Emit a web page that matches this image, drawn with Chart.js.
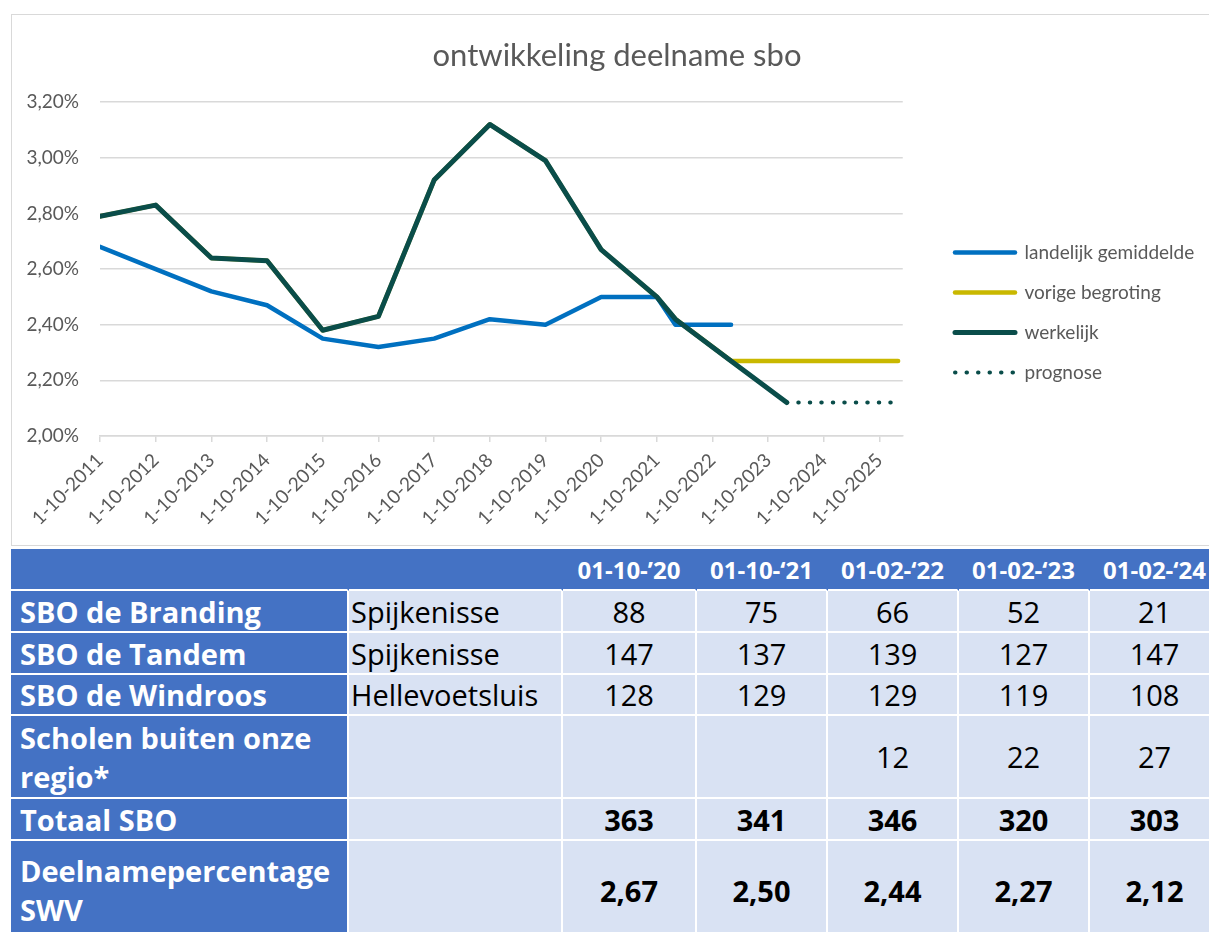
<!DOCTYPE html>
<html lang="nl">
<head>
<meta charset="utf-8">
<title>ontwikkeling deelname sbo</title>
<script src="https://cdn.jsdelivr.net/npm/chart.js@4.4.1/dist/chart.umd.min.js"></script>
<style>
    html, body { margin: 0; padding: 0; background: #fff; width: 1209px; height: 932px; overflow: hidden; }
    #kader { position: absolute; left: 11px; top: 14px; width: 1230px; height: 532px; border: 1.5px solid #d9d9d9; box-sizing: border-box; }
    #grafiek-wrap { position: absolute; left: 12px; top: 15px; width: 1197px; height: 529px; }
    #tabel { position: absolute; left: 11px; top: 549px; border-collapse: separate; border-spacing: 0; table-layout: fixed; width: 1210px; font-family: 'Open Sans', sans-serif; }
    #tabel th, #tabel td { padding: 0; box-sizing: border-box; border-right: 2px solid #fff; border-bottom: 2px solid #fff; line-height: 39px; }
    #tabel th { background: #4472c4; color: #fff; font-weight: bold; font-size: 24px; text-align: center; border-right-color: #4472c4; height: 42px; }
    #tabel td { background: #d9e2f3; color: #000; font-size: 29px; text-align: center; height: 42px; }
    #tabel td.naam { background: #4472c4; color: #fff; font-weight: bold; text-align: left; padding-left: 9px; }
    #tabel td.plaats { text-align: left; padding-left: 2px; }
    #tabel tr.vet td { font-weight: bold; }
</style>
</head>
<body>
<div id="kader"></div>
<div id="grafiek-wrap"><canvas id="grafiek"></canvas></div>
<table id="tabel">
    <colgroup>
        <col style="width:338px"><col style="width:214px"><col style="width:134px">
        <col style="width:131px"><col style="width:131px"><col style="width:131px"><col style="width:131px">
    </colgroup>
    <thead><tr id="kop"></tr></thead>
    <tbody id="romp"></tbody>
</table>
<script>
// --------------------------------------------------------------------------
// Data grafiek (waarden in %)
// --------------------------------------------------------------------------
const tickDatums = ['1-10-2011', '1-10-2012', '1-10-2013', '1-10-2014', '1-10-2015', '1-10-2016', '1-10-2017',
    '1-10-2018', '1-10-2019', '1-10-2020', '1-10-2021', '1-10-2022', '1-10-2023', '1-10-2024', '1-10-2025'];
const asStart = '1-10-2011';
const asEinde = '1-3-2026';

const datumLandelijk = ['1-10-2011', '1-10-2012', '1-10-2013', '1-10-2014', '1-10-2015', '1-10-2016', '1-10-2017',
    '1-10-2018', '1-10-2019', '1-10-2020', '1-10-2021', '1-2-2022', '1-2-2023'];
const landelijk = [2.68, 2.60, 2.52, 2.47, 2.35, 2.32, 2.35, 2.42, 2.40, 2.50, 2.50, 2.40, 2.40];

const datumVorige = ['1-10-2011', '1-10-2012', '1-10-2013', '1-10-2014', '1-10-2015', '1-10-2016', '1-10-2017',
    '1-10-2018', '1-10-2019', '1-10-2020', '1-10-2021', '1-2-2022', '1-2-2023', '1-2-2026'];
const vorigeBegroting = [2.79, 2.83, 2.64, 2.63, 2.38, 2.43, 2.92, 3.12, 2.99, 2.67, 2.50, 2.42, 2.27, 2.27];

const datumWerkelijk = ['1-10-2011', '1-10-2012', '1-10-2013', '1-10-2014', '1-10-2015', '1-10-2016', '1-10-2017',
    '1-10-2018', '1-10-2019', '1-10-2020', '1-10-2021', '1-2-2022', '1-2-2023', '1-2-2024'];
const werkelijk = [2.79, 2.83, 2.64, 2.63, 2.38, 2.43, 2.92, 3.12, 2.99, 2.67, 2.50, 2.42, 2.27, 2.12];

const datumPrognose = ['1-2-2024', '1-2-2025', '1-2-2026'];
const prognose = [2.12, 2.12, 2.12];

const yMin = 2.0;
const yMax = 3.2;
const yStap = 0.2;

// --------------------------------------------------------------------------
// Data tabel
// --------------------------------------------------------------------------
const kolommen = ['01-10-\u201920', '01-10-\u201821', '01-02-\u201822', '01-02-\u201823', '01-02-\u201824'];
const scholen = ['SBO de Branding', 'SBO de Tandem', 'SBO de Windroos', 'Scholen buiten onze regio*', 'Totaal SBO', 'Deelnamepercentage SWV'];
const plaatsen = ['Spijkenisse', 'Spijkenisse', 'Hellevoetsluis', '', '', ''];
const aantallen = [
    ['88', '75', '66', '52', '21'],
    ['147', '137', '139', '127', '147'],
    ['128', '129', '129', '119', '108'],
    ['', '', '12', '22', '27'],
    ['363', '341', '346', '320', '303'],
    ['2,67', '2,50', '2,44', '2,27', '2,12']
];
const rijHoogtes = [42, 42, 41, 83, 42, 100];
const vetteRijen = [4, 5];

// datum 'd-m-jjjj' -> jaren, met 1 oktober als hele waarde
function naarAs(datum) {
    const [d, m, j] = datum.split('-').map(Number);
    return j + (m - 10) / 12 + (d - 1) / 365;
}

function punten(datums, waarden) {
    return datums.map((d, i) => ({ x: naarAs(d), y: waarden[i] }));
}

// ---- Tabel opbouwen ----
let kop = '<th></th><th></th>';
kolommen.forEach(k => { kop += `<th>${k}</th>`; });
document.getElementById('kop').innerHTML = kop;

let romp = '';
scholen.forEach((naam, r) => {
    romp += `<tr class="${vetteRijen.includes(r) ? 'vet' : ''}" style="height:${rijHoogtes[r]}px">`;
    romp += `<td class="naam" style="height:${rijHoogtes[r]}px">${naam}</td>`;
    romp += `<td class="plaats" style="height:${rijHoogtes[r]}px">${plaatsen[r]}</td>`;
    aantallen[r].forEach(v => { romp += `<td style="height:${rijHoogtes[r]}px">${v}</td>`; });
    romp += '</tr>';
});
document.getElementById('romp').innerHTML = romp;

// ---- Grafiek ----
const grijs = '#595959';
const lijnGrijs = '#d9d9d9';

// legenda en titel op vaste plek (zoals in Excel)
const vastePlek = {
    id: 'vastePlek',
    beforeDraw(chart) {
        const lg = chart.legend;
        const pad = lg.options.labels.padding;
        const w = lg.width;
        lg.left = 943 - pad;
        lg.right = lg.left + w;
        lg.top = 228 - pad;
        lg.bottom = lg.top + 200;

        const tb = chart.titleBlock;
        tb.left = 0;
        tb.right = 1210;
    }
};

new Chart(document.getElementById('grafiek').getContext('2d'), {
    type: 'line',
    data: {
        datasets: [
            {
                label: 'landelijk gemiddelde',
                data: punten(datumLandelijk, landelijk),
                borderColor: '#0070c0',
                backgroundColor: '#0070c0',
                borderWidth: 4.5,
                order: 2
            },
            {
                label: 'vorige begroting',
                data: punten(datumVorige, vorigeBegroting),
                borderColor: '#c9b800',
                backgroundColor: '#c9b800',
                borderWidth: 4.5,
                order: 3
            },
            {
                label: 'werkelijk',
                data: punten(datumWerkelijk, werkelijk),
                borderColor: '#0a4d4a',
                backgroundColor: '#0a4d4a',
                borderWidth: 5,
                order: 0
            },
            {
                label: 'prognose',
                data: punten(datumPrognose, prognose),
                borderColor: '#0a4d4a',
                backgroundColor: '#0a4d4a',
                borderWidth: 4,
                borderDash: [0.5, 11],
                order: 1
            }
        ]
    },
    options: {
        responsive: true,
        maintainAspectRatio: false,
        animation: false,
        layout: { padding: { left: 0, right: 36, top: 0, bottom: 0 } },
        elements: {
            point: { radius: 0, hoverRadius: 0 },
            line: { tension: 0, borderCapStyle: 'round', borderJoinStyle: 'round' }
        },
        plugins: {
            title: {
                display: true,
                text: 'ontwikkeling deelname sbo',
                color: grijs,
                font: { family: 'Lato', size: 31, weight: 'normal' },
                padding: { top: 22, bottom: 28 }
            },
            legend: {
                position: 'right',
                align: 'start',
                labels: {
                    color: grijs,
                    font: { family: 'Lato', size: 19 },
                    usePointStyle: true,
                    pointStyleWidth: 60,
                    padding: 21,
                    generateLabels: chart => chart.data.datasets.map((ds, i) => ({
                        text: ds.label,
                        fillStyle: ds.borderColor,
                        strokeStyle: ds.borderColor,
                        fontColor: grijs,
                        lineWidth: ds.borderWidth,
                        lineDash: ds.borderDash || [],
                        lineCap: 'round',
                        pointStyle: 'line',
                        hidden: false,
                        datasetIndex: i
                    }))
                }
            },
            tooltip: { enabled: false }
        },
        scales: {
            x: {
                type: 'linear',
                min: naarAs(asStart),
                max: naarAs(asEinde),
                afterBuildTicks: s => { s.ticks = tickDatums.map(d => ({ value: naarAs(d) })); },
                afterFit: s => { s.height = 108; },
                border: { color: lijnGrijs, width: 1.5 },
                grid: { drawOnChartArea: false, drawTicks: true, tickLength: 6, color: lijnGrijs, lineWidth: 1.5 },
                ticks: {
                    autoSkip: false,
                    minRotation: 45,
                    maxRotation: 45,
                    padding: 7,
                    color: grijs,
                    font: { family: 'Lato', size: 19 },
                    callback: (v, i) => tickDatums[i]
                }
            },
            y: {
                min: yMin,
                max: yMax,
                afterFit: s => { s.width = 88; },
                border: { display: false },
                grid: { color: lijnGrijs, lineWidth: 1.5, drawTicks: false },
                ticks: {
                    stepSize: yStap,
                    padding: 21,
                    color: grijs,
                    font: { family: 'Lato', size: 19 },
                    callback: v => v.toFixed(2).replace('.', ',') + '%'
                }
            }
        }
    },
    plugins: [vastePlek]
});
</script>
</body>
</html>
